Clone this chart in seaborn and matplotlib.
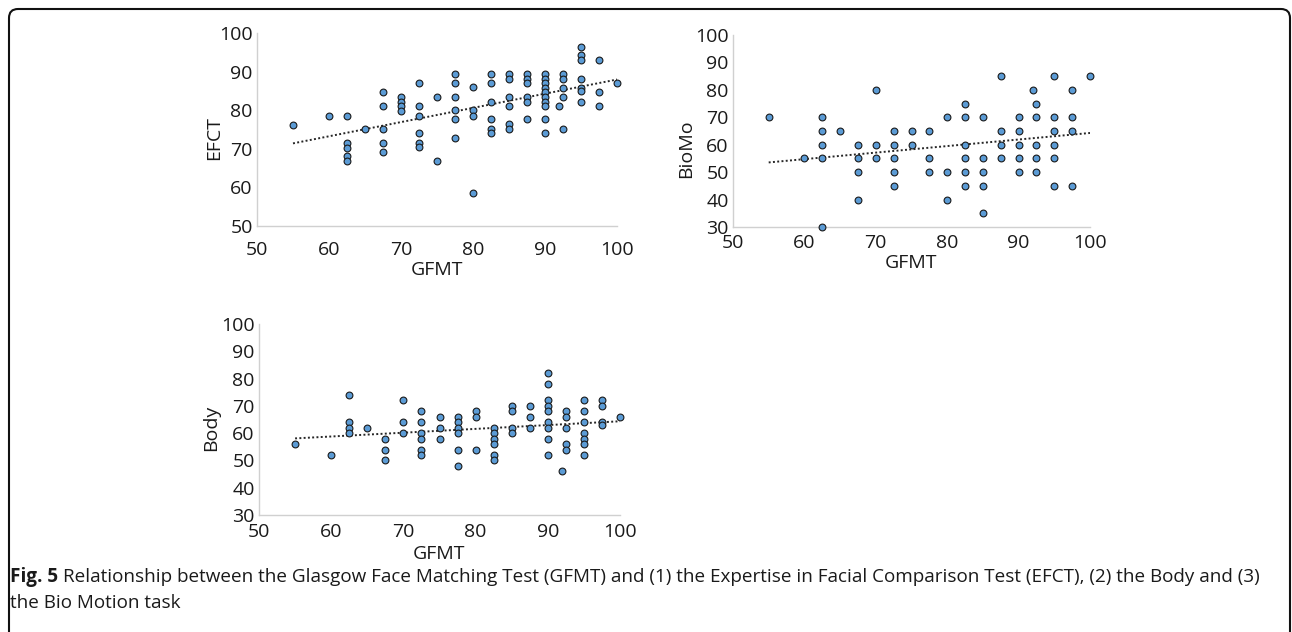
import pandas as pd
import seaborn as sns
from matplotlib import pyplot as plt
from matplotlib.patches import FancyBboxPatch

# scores read per GFMT level (percent correct)
efct = {
    55: [76.2], 60: [78.5], 62.5: [78.5, 71.6, 70.3, 68.1, 66.8], 65: [75.1],
    67.5: [84.6, 81.0, 75.1, 71.6, 69.3], 70: [83.4, 82.2, 81.0, 79.8],
    72.5: [87.0, 81.0, 78.6, 74.0, 71.6, 70.4], 75: [83.4, 66.8],
    77.5: [89.4, 87.0, 83.4, 80.0, 77.6, 72.8], 80: [85.9, 80.0, 78.6, 58.5],
    82.5: [89.4, 87.0, 82.2, 77.6, 75.2, 74.0], 85: [89.4, 88.2, 83.4, 81.0, 76.3, 75.2],
    87.5: [89.4, 88.2, 87.0, 83.4, 82.2, 77.6],
    90: [89.4, 88.2, 87.0, 85.8, 84.6, 83.4, 82.2, 81.0, 77.6, 74.0],
    92: [81.0], 92.5: [89.4, 88.2, 85.8, 83.4, 75.2],
    95: [96.5, 94.3, 93.0, 88.2, 85.8, 85.1, 82.2], 97.5: [93.0, 84.6, 81.0], 100: [87.0],
}
biomo = {
    55: [70], 60: [55], 62.5: [70, 65, 60, 55, 30], 65: [65], 67.5: [60, 55, 50, 40],
    70: [80, 60, 55], 72.5: [65, 60, 55, 50, 45], 75: [65, 60], 77.5: [65, 55, 50],
    80: [70, 50, 40], 82.5: [75, 70, 60, 55, 50, 45], 85: [70, 55, 50, 45, 35],
    87.5: [85, 65, 60, 55], 90: [70, 65, 60, 55, 50], 92: [80], 92.5: [75, 70, 60, 55, 50],
    95: [85, 70, 65, 60, 55, 45], 97.5: [80, 70, 65, 45], 100: [85],
}
body = {
    55: [56], 60: [52], 62.5: [74, 64, 62, 60], 65: [62], 67.5: [58, 54, 50],
    70: [72, 64, 60], 72.5: [68, 64, 60, 58, 54, 52], 75: [66, 62, 58],
    77.5: [66, 64, 62, 60, 54, 48], 80: [68, 66, 54], 82.5: [62, 60, 58, 56, 52, 50],
    85: [70, 68, 62, 60], 87.5: [70, 66, 62], 90: [82, 78, 72, 70, 68, 64, 62, 58, 52],
    92: [46], 92.5: [68, 66, 62, 56, 54], 95: [72, 68, 64, 60, 58, 56, 52],
    97.5: [72, 70, 64, 63], 100: [66],
}
x_ticks = [50, 60, 70, 80, 90, 100]
caption_bold = "Fig. 5"
caption_line1 = ("Relationship between the Glasgow Face Matching Test (GFMT) and (1) the Expertise "
                 "in Facial Comparison Test (EFCT), (2) the Body and (3)")
caption_line2 = "the Bio Motion task"


def toFrame(d, name):
    rows = [(g, v) for g, vals in d.items() for v in vals]
    return pd.DataFrame(rows, columns=['GFMT', name])


sns.set_style("white")
plt.rcParams['font.family'] = ['Open Sans', 'DejaVu Sans']

W, H = 1292, 632
fig = plt.figure(figsize=(W / 100, H / 100), dpi=100)
FS = 14


def drawPanel(rect, df, col, ylim, ylab_xy, xlab_y, xpad):
    l, t, r, b = rect
    ax = fig.add_axes([l / W, 1 - b / H, (r - l) / W, (b - t) / H])
    sns.regplot(data=df, x='GFMT', y=col, ax=ax, scatter=False, ci=None,
                color='#262626', line_kws=dict(linestyle=(0, (1, 1.2)), linewidth=1.4))
    sns.scatterplot(data=df, x='GFMT', y=col, ax=ax, s=24, color='#5b9bd5',
                    edgecolor='#1a1a1a', linewidth=0.8, zorder=3, clip_on=False)
    ax.set_xlim(50, 100)
    ax.set_ylim(*ylim)
    ax.set_xticks(x_ticks)
    ax.set_yticks(range(ylim[0], ylim[1] + 1, 10))
    for s in ['top', 'right']:
        ax.spines[s].set_visible(False)
    for s in ['left', 'bottom']:
        ax.spines[s].set_color('#d0d0d0')
        ax.spines[s].set_linewidth(1.0)
    ax.tick_params(axis='both', length=0, labelsize=FS, colors='#1a1a1a')
    ax.tick_params(axis='x', pad=xpad)
    ax.tick_params(axis='y', pad=3)
    ax.set_xlabel('GFMT', fontsize=FS, color='#1a1a1a')
    ax.set_ylabel(col, fontsize=FS, color='#1a1a1a')
    ax.xaxis.set_label_coords(0.5, xlab_y)
    ax.yaxis.set_label_coords(*ylab_xy)
    return ax


drawPanel((257, 33, 617, 226), toFrame(efct, 'EFCT'), 'EFCT', (50, 100), (-0.093, 0.456), -0.18, 10.5)
drawPanel((733, 35, 1090, 227), toFrame(biomo, 'BioMo'), 'BioMo', (30, 100), (-0.105, 0.41), -0.14, 5)
drawPanel((259, 324, 620, 515), toFrame(body, 'Body'), 'Body', (30, 100), (-0.109, 0.455), -0.157, 5.8)

# outer rounded frame
frame = FancyBboxPatch((0, 0), 1, 1, boxstyle="round,pad=0,rounding_size=0.09",
                       fill=False, edgecolor='#111111', linewidth=1.5)
frame.set_transform(fig.dpi_scale_trans)
frame.set_bounds(9 / 100, -20 / 100, 1281 / 100, (H - 9 + 20) / 100)
fig.add_artist(frame)

CFS = 13.6
renderer = fig.canvas.get_renderer()
t = fig.text(10 / W, 1 - 577 / H, caption_bold, fontsize=CFS, weight='bold',
             va='center', ha='left', color='#1a1a1a')
bb = t.get_window_extent(renderer)
fig.text((bb.x1 + 5) / W, 1 - 577 / H, caption_line1, fontsize=CFS,
         va='center', ha='left', color='#1a1a1a')
fig.text(10 / W, 1 - 603 / H, caption_line2, fontsize=CFS,
         va='center', ha='left', color='#1a1a1a')

fig.savefig("out.png", dpi=100)
